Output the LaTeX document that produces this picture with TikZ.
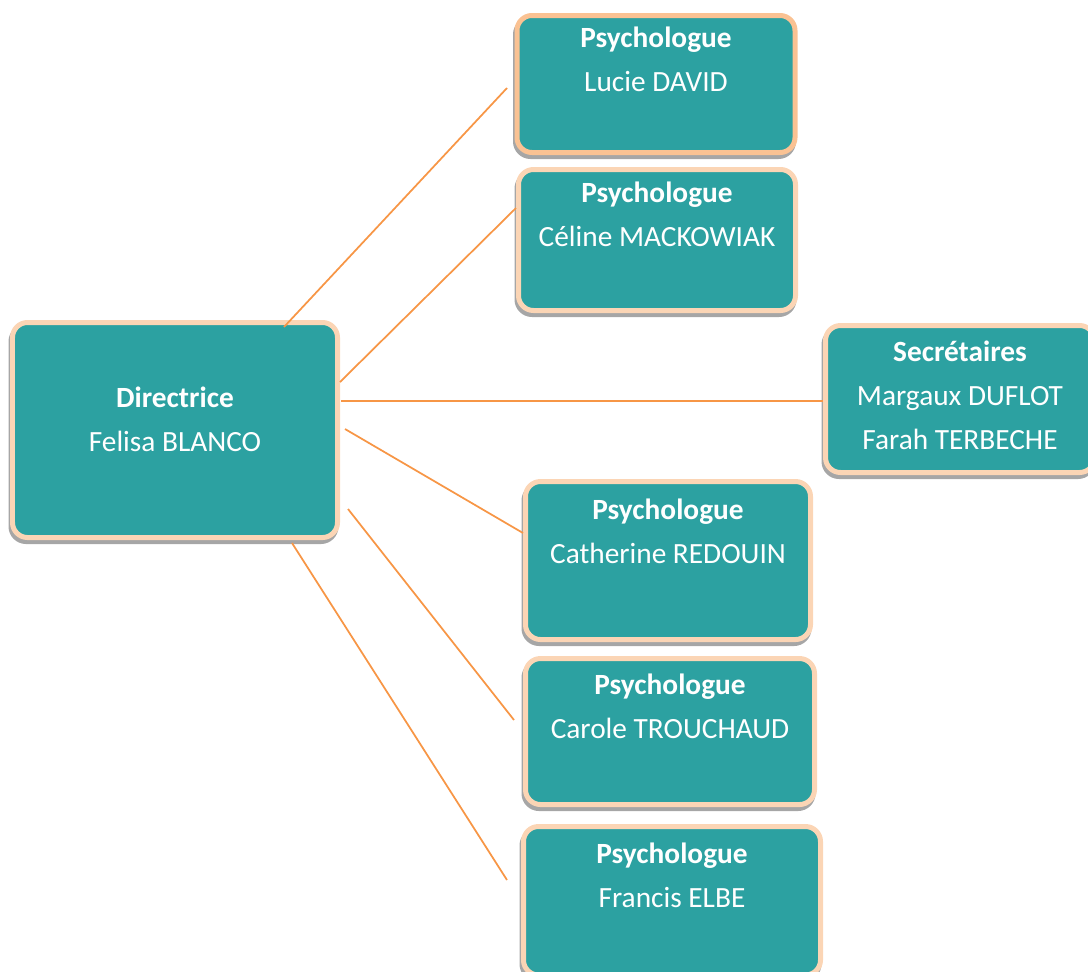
\documentclass[tikz,border=0pt]{standalone}
\usepackage{fontspec}
\setmainfont{Carlito}
\usetikzlibrary{fit}
\definecolor{boxteal}{HTML}{2CA1A1}
\definecolor{peach}{HTML}{FBD5B5}
\definecolor{peachdark}{HTML}{FAC293}
\definecolor{linkorange}{HTML}{F79646}
\definecolor{shadowgrey}{HTML}{A6A6A6}
\begin{document}
\begin{tikzpicture}[x=0.02cm, y=0.02cm]
        \tikzstyle{box}=[draw=peach, line width=0.1cm, fill=boxteal, rounded corners=0.3cm, inner sep=0pt,
            preaction={draw=shadowgrey, fill=shadowgrey, transform canvas={xshift=-0.03cm, yshift=-0.08cm}}]
        \tikzstyle{txt}=[text=white, font=\fontsize{16.7}{25}\selectfont, align=center, anchor=base, inner sep=0pt]
        \tikzstyle{link}=[draw=linkorange, line width=0.035cm]

        \useasboundingbox (0,0) rectangle (1088,-971);

        % boxes
        \node[box, fit={(12.5,-322.5) (337.5,-537.5)}]   (dir)   {};
        \node[box, draw=peachdark, fit={(517,-15.5) (795,-152.5)}] (david) {};
        \node[box, fit={(518.5,-169.5) (795.5,-310.5)}]  (mack)  {};
        \node[box, fit={(825.5,-325.5) (1094.5,-472.5)}] (secr)  {};
        \node[box, fit={(525.5,-481.5) (810.5,-639.5)}]  (redo)  {};
        \node[box, fit={(525.5,-658.5) (814.5,-804.5)}]  (trou)  {};
        \node[box, fit={(523.5,-826.5) (820.5,-975)}]    (elbe)  {};

        % texts (base = last line)
        \node[txt] (dir-t)   at ([yshift=-2.63cm]dir.north)   {\textbf{Directrice}\\Felisa BLANCO};
        \node[txt] (david-t) at ([yshift=-1.57cm]david.north) {\textbf{Psychologue}\\Lucie DAVID};
        \node[txt] (mack-t)  at ([yshift=-1.59cm]mack.north)  {\textbf{Psychologue}\\Céline MACKOWIAK};
        \node[txt] (secr-t)  at ([yshift=-2.53cm]secr.north)  {\textbf{Secrétaires}\\Margaux DUFLOT\\Farah TERBECHE};
        \node[txt] (redo-t)  at ([yshift=-1.69cm]redo.north)  {\textbf{Psychologue}\\Catherine REDOUIN};
        \node[txt] (trou-t)  at ([yshift=-1.65cm]trou.north)  {\textbf{Psychologue}\\Carole TROUCHAUD};
        \node[txt] (elbe-t)  at ([yshift=-1.67cm]elbe.north)  {\textbf{Psychologue}\\Francis ELBE};

        % line ends
        \coordinate (a1) at (284,-327); \coordinate (b1) at (507,-88);
        \coordinate (a2) at (340,-382); \coordinate (b2) at (516,-208);
        \coordinate (a3) at (341,-401); \coordinate (b3) at (823,-401);
        \coordinate (a4) at (345,-429); \coordinate (b4) at (523,-533);
        \coordinate (a5) at (348,-509); \coordinate (b5) at (514,-720);
        \coordinate (a6) at (292,-543); \coordinate (b6) at (507,-880);

        \path[link] (a1) edge (b1)
                    (a2) edge (b2)
                    (a3) edge (b3)
                    (a4) edge (b4)
                    (a5) edge (b5)
                    (a6) edge (b6);

    \end{tikzpicture}
\end{document}
